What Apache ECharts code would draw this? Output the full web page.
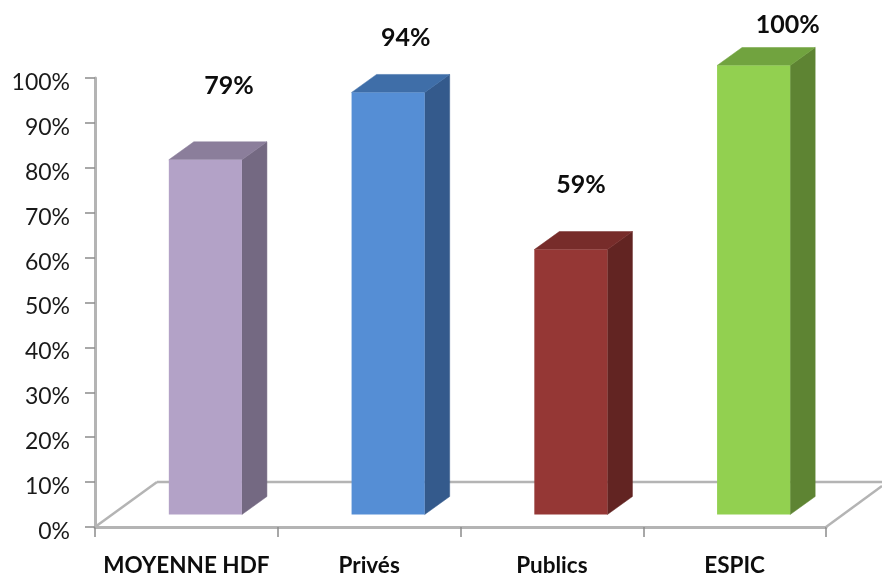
<!DOCTYPE html>
<html><head><meta charset="utf-8">
<style>html,body{margin:0;padding:0;background:#fff}#c{width:882px;height:575px}</style>
<script src="https://cdn.jsdelivr.net/npm/echarts@6/dist/echarts.min.js"></script>
</head><body><div id="c"></div>
<script>
const categories = ['MOYENNE HDF', 'Privés', 'Publics', 'ESPIC'];
const values = [79, 94, 59, 100];
const axisValues = { min: 0, max: 100, step: 10 };
const frontColors = ['#b3a2c7', '#558ed5', '#953735', '#92d050'];
const topColors = ['#8b7e9b', '#3f6ea8', '#772c2a', '#71a33f'];
const sideColors = ['#746982', '#345a8c', '#622422', '#5e8433'];
const labelNudges = [[23.5, -74], [17.5, -55], [10, -65], [34, -41]];

const depth = [25, -18], baseLift = 12.5, frontShift = 19;
const chart = echarts.init(document.getElementById('c'), null, { renderer: 'canvas' });

function poly(points, fill) {
  return { type: 'polygon', shape: { points }, style: { fill, stroke: fill, lineWidth: 0.5 } };
}
function renderBar(params, api) {
  const i = api.value(0), v = api.value(1);
  const base = api.coord([i, 0]), top = api.coord([i, v]);
  const w = api.size([1, 0])[0] * 0.4;
  const x0 = base[0] + frontShift - w / 2, x1 = x0 + w;
  const yb = base[1] - baseLift, yt = top[1] - baseLift;
  const [dx, dy] = depth;
  const n = labelNudges[i];
  return {
    type: 'group',
    children: [
      poly([[x1, yt], [x1 + dx, yt + dy], [x1 + dx, yb + dy], [x1, yb]], sideColors[i]),
      poly([[x0, yt], [x0 + dx, yt + dy], [x1 + dx, yt + dy], [x1, yt]], topColors[i]),
      { type: 'rect', shape: { x: x0, y: yt, width: w, height: yb - yt }, style: { fill: frontColors[i] } },
      { type: 'text', style: { x: (x0 + x1) / 2 + n[0], y: yt + n[1], text: v + '%', fill: '#0d0d0d',
          font: 'bold 25px Lato', align: 'center', verticalAlign: 'middle' } }
    ]
  };
}
function renderFloor(params, api) {
  const cs = params.coordSys;
  const a = [cs.x, cs.y + cs.height], b = [cs.x + cs.width, cs.y + cs.height];
  const ry = api.coord([0, 10])[1];
  const bx = a[0] + 62;
  const ln = (p, q) => ({ type: 'line', shape: { x1: p[0], y1: p[1], x2: q[0], y2: q[1] },
    style: { stroke: '#b4b4b4', lineWidth: 2.5 } });
  return { type: 'group', children: [
    ln(a, [bx, ry]),
    ln([bx, ry], [882, ry]),
    ln(b, [882, b[1] - 41])
  ] };
}
chart.setOption({
  animation: false,
  backgroundColor: '#fff',
  grid: { left: 95, right: 56, top: 78, bottom: 48, containLabel: false, outerBoundsMode: 'none' },
  xAxis: {
    type: 'category', data: categories, boundaryGap: true,
    axisLine: { lineStyle: { color: '#b4b4b4', width: 3 } },
    axisTick: { show: true, interval: 0, alignWithLabel: false, length: 10, lineStyle: { color: '#8c8c8c', width: 1.5 } },
    axisLabel: { interval: 0, margin: 27, color: '#0d0d0d', fontFamily: 'Lato', fontWeight: 'bold', fontSize: 22.5 },
    splitLine: { show: false }
  },
  yAxis: {
    type: 'value', min: axisValues.min, max: axisValues.max, interval: axisValues.step,
    axisLine: { show: true, lineStyle: { color: '#b4b4b4', width: 3 } },
    axisTick: { show: true, length: 10, lineStyle: { color: '#8c8c8c', width: 1.5 } },
    axisLabel: { formatter: '{value}%', margin: 25, verticalAlign: 'top', lineHeight: 9, color: '#1a1a1a', fontFamily: 'Lato', fontSize: 23 },
    splitLine: { show: false }
  },
  series: [
    { type: 'custom', clip: false, z: 1, silent: true, data: [[0, 0]], encode: { x: 0, y: 1 }, renderItem: renderFloor },
    { type: 'custom', clip: false, z: 3, silent: true, data: values.map((v, i) => [i, v]), encode: { x: 0, y: 1 }, renderItem: renderBar }
  ]
});
</script></body></html>
